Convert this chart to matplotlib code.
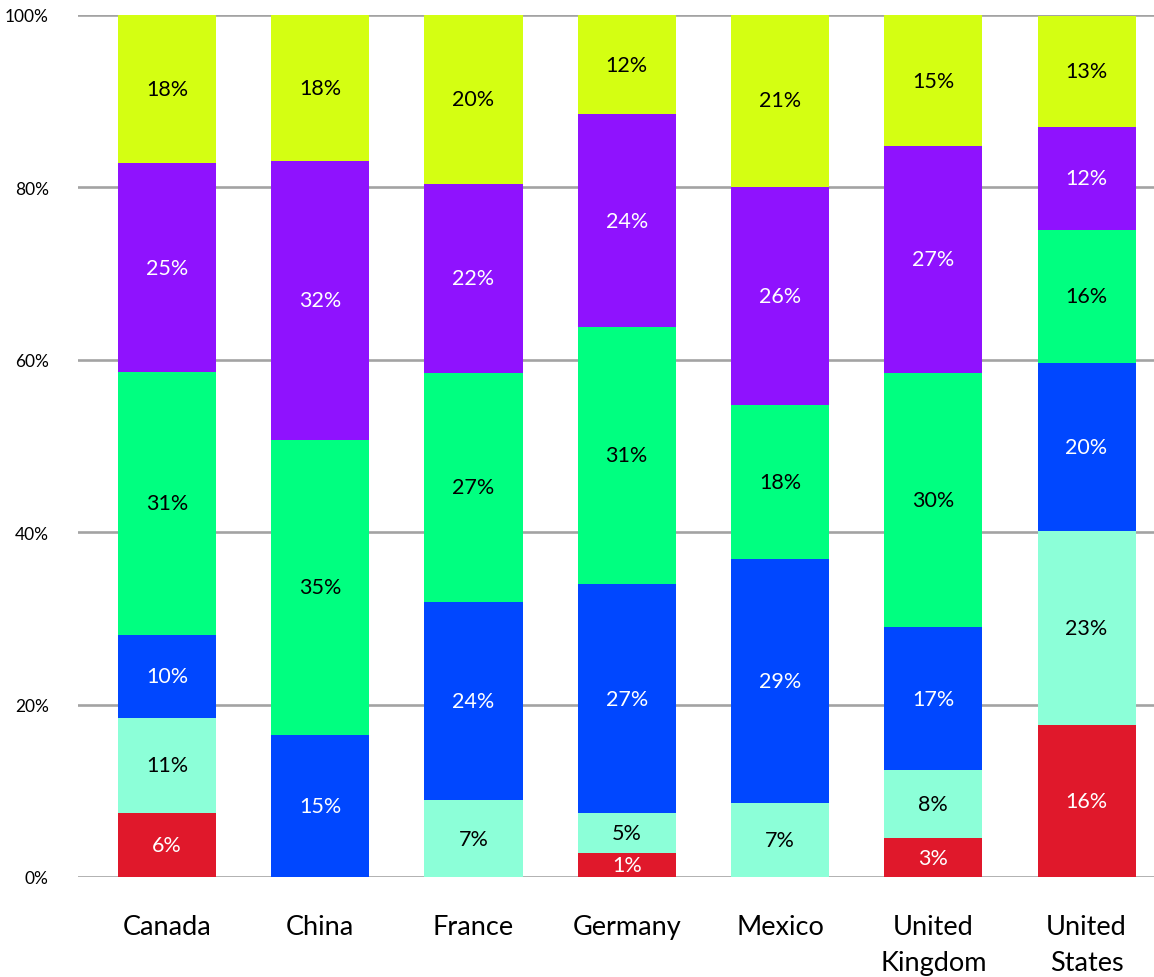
import matplotlib
matplotlib.use("Agg")
import matplotlib.pyplot as plt
import numpy as np

countries = ["Canada", "China", "France", "Germany", "Mexico", "United\nKingdom", "United\nStates"]

# Segment shares (bottom to top)
red    = [7.4, 0.0, 0.0, 2.8, 0.0, 4.5, 17.6]
teal   = [11.1, 0.0, 8.9, 4.6, 8.6, 7.9, 22.5]
blue   = [9.6, 16.5, 23.0, 26.6, 28.3, 16.6, 19.5]
green  = [30.5, 34.2, 26.6, 29.8, 17.9, 29.5, 15.5]
purple = [24.2, 32.4, 21.9, 24.7, 25.3, 26.3, 11.9]
yellow = [17.2, 16.9, 19.6, 11.5, 20.0, 15.2, 12.9]

# Printed labels (as shown on the chart)
red_lbl    = [6, None, None, 1, None, 3, 16]
teal_lbl   = [11, None, 7, 5, 7, 8, 23]
blue_lbl   = [10, 15, 24, 27, 29, 17, 20]
green_lbl  = [31, 35, 27, 31, 18, 30, 16]
purple_lbl = [25, 32, 22, 24, 26, 27, 12]
yellow_lbl = [18, 18, 20, 12, 21, 15, 13]

yticks = [0, 20, 40, 60, 80, 100]

series = [
    (red, red_lbl, "#e0182b", "white"),
    (teal, teal_lbl, "#8cffd8", "black"),
    (blue, blue_lbl, "#0047ff", "white"),
    (green, green_lbl, "#00ff80", "black"),
    (purple, purple_lbl, "#8f12fe", "white"),
    (yellow, yellow_lbl, "#d4ff12", "black"),
]

plt.rcParams['font.family'] = ['Lato', 'DejaVu Sans']

fig = plt.figure(figsize=(11.54, 9.78), dpi=100)
ax = fig.add_axes([78/1154, 100/978, 1 - 78/1154, 862/978])

x = np.arange(len(countries))
bottom = np.zeros(len(countries))
for vals, lbls, col, tcol in series:
    vals = np.array(vals, dtype=float)
    ax.bar(x, vals, bottom=bottom, width=0.64, color=col, zorder=3, linewidth=0)
    for i in range(len(x)):
        if lbls[i] is not None and vals[i] > 0:
            ax.text(x[i], bottom[i] + vals[i] / 2, f"{lbls[i]}%", ha="center", va="center",
                    color=tcol, fontsize=15.5, zorder=4)
    bottom += vals

ax.set_xlim(-0.58, 6.44)
ax.set_ylim(0, 100)
ax.set_yticks(yticks)
ax.set_yticklabels([f"{t}%" for t in yticks], fontsize=12.5)
ax.yaxis.grid(True, color="#a3a3a3", linewidth=1.9, zorder=0)
ax.set_axisbelow(True)
ax.set_xticks(x)
ax.set_xticklabels(countries, fontsize=19.5, linespacing=1.55, va="top")
ax.tick_params(axis="y", length=0, pad=21)
ax.tick_params(axis="x", length=0, pad=27)
for s in ax.spines.values():
    s.set_visible(False)

fig.savefig("out.png", dpi=100)
